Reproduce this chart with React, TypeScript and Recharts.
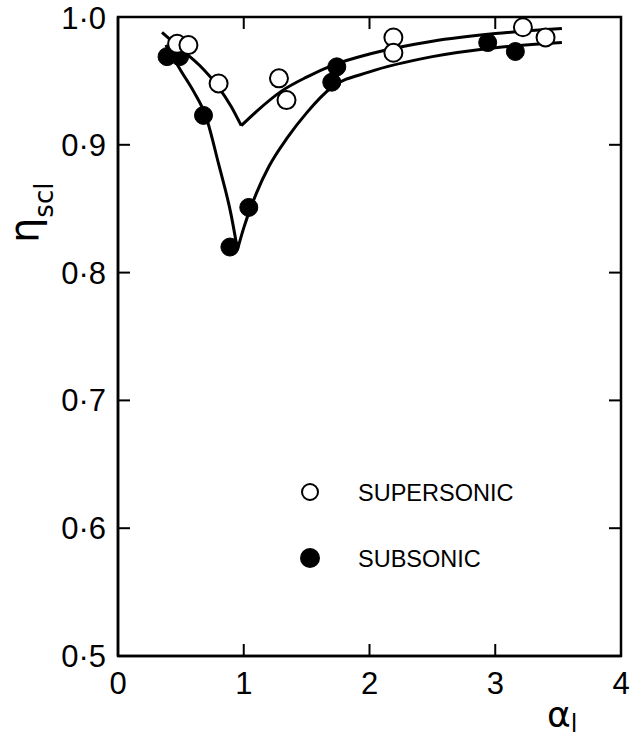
import React from 'react';
import { ComposedChart, Line, Scatter, XAxis, YAxis, Legend, Label, ReferenceArea, ReferenceLine } from 'recharts';

// Measured points
const supersonicAlpha = [0.47, 0.56, 0.80, 1.28, 1.34, 2.19, 2.19, 3.22, 3.40];
const supersonicEta = [0.979, 0.978, 0.948, 0.952, 0.935, 0.984, 0.972, 0.992, 0.984];
const subsonicAlpha = [0.39, 0.49, 0.68, 0.89, 1.04, 1.70, 1.74, 2.94, 3.16];
const subsonicEta = [0.969, 0.969, 0.923, 0.820, 0.851, 0.949, 0.961, 0.980, 0.973];

// Fitted curves (two branches each, meeting at a cusp)
const superLeftAlpha = [0.35, 0.5, 0.65, 0.8, 0.9, 0.98];
const superLeftEta = [0.988, 0.975, 0.962, 0.945, 0.930, 0.915];
const superRightAlpha = [0.98, 1.1, 1.3, 1.5, 1.7, 2.0, 2.5, 3.0, 3.53];
const superRightEta = [0.915, 0.926, 0.942, 0.953, 0.962, 0.971, 0.981, 0.987, 0.991];
const subLeftAlpha = [0.38, 0.5, 0.6, 0.7, 0.8, 0.9, 0.95];
const subLeftEta = [0.978, 0.958, 0.942, 0.922, 0.885, 0.845, 0.818];
const subRightAlpha = [0.95, 1.0, 1.1, 1.2, 1.35, 1.5, 1.7, 2.0, 2.5, 3.0, 3.53];
const subRightEta = [0.818, 0.835, 0.862, 0.883, 0.906, 0.925, 0.945, 0.957, 0.969, 0.976, 0.980];

const xTicks = [0, 1, 2, 3, 4];
const xInnerTicks = [1, 2, 3];
const yTicks = [0.5, 0.6, 0.7, 0.8, 0.9, 1.0];
const yInnerTicks = [0.6, 0.7, 0.8, 0.9];
const xDomain = [0, 4];
const yDomain = [0.5, 1.0];
const seriesNames = ['SUPERSONIC', 'SUBSONIC'];

const zip = (xs: number[], ys: number[]) => xs.map((x, i) => ({ x, y: ys[i] }));

const supersonicData = zip(supersonicAlpha, supersonicEta);
const subsonicData = zip(subsonicAlpha, subsonicEta);
const superLeft = zip(superLeftAlpha, superLeftEta);
const superRight = zip(superRightAlpha, superRightEta);
const subLeft = zip(subLeftAlpha, subLeftEta);
const subRight = zip(subRightAlpha, subRightEta);

const FONT = '"Liberation Sans", Arial, sans-serif';
const TICK_LEN = 12;

const OpenDot = (p: any) => (
  <circle cx={p.cx} cy={p.cy} r={9} fill="#fff" stroke="#000" strokeWidth={2} />
);
const FilledDot = (p: any) => <circle cx={p.cx} cy={p.cy} r={9} fill="#000" stroke="#000" strokeWidth={1} />;

// inner tick at the top end of a vertical reference line
const TopTick = (p: any) => {
  const top = Math.min(p.y1, p.y2);
  return <line x1={p.x1} x2={p.x1} y1={top} y2={top + TICK_LEN} stroke="#000" strokeWidth={2} />;
};
// inner tick at the right end of a horizontal reference line
const RightTick = (p: any) => {
  const right = Math.max(p.x1, p.x2);
  return <line x1={right} x2={right - TICK_LEN} y1={p.y1} y2={p.y1} stroke="#000" strokeWidth={2} />;
};

const renderLegend = () => (
  <svg width={260} height={100} style={{ display: 'block' }}>
    {seriesNames.map((name, i) => {
      const cy = 22 + i * 66;
      const open = i === 0;
      return (
        <g key={name}>
          <circle cx={20} cy={cy} r={open ? 8 : 9} fill={open ? '#fff' : '#000'} stroke="#000" strokeWidth={2} />
          <text x={68} y={cy + 8.5} fontFamily={FONT} fontSize={23.5} fill="#000">
            {name}
          </text>
        </g>
      );
    })}
  </svg>
);

const fmt = (v: number) => v.toFixed(1).replace('.', '\u00b7');

export default function App() {
  return (
    <div style={{ position: 'absolute', left: 0, top: 0, background: '#fff' }}>
      <ComposedChart width={637} height={737} margin={{ top: 17, right: 16, left: 0, bottom: 0 }}>
        <XAxis
          type="number"
          dataKey="x"
          domain={xDomain}
          ticks={xTicks}
          height={81}
          axisLine={{ stroke: '#000', strokeWidth: 2.5 }}
          tickLine={{ stroke: '#000', strokeWidth: 2 }}
          tickSize={-TICK_LEN}
          tickMargin={28}
          tick={{ fontFamily: FONT, fontSize: 31, fill: '#000' }}
          allowDataOverflow
        >
          <Label
            content={() => (
              <text x={547} y={727} fontFamily={'"DejaVu Sans", sans-serif'} fill="#000">
                <tspan fontSize={36}>α</tspan>
                <tspan fontSize={24} dy={5}>l</tspan>
              </text>
            )}
          />
        </XAxis>
        <YAxis
          type="number"
          domain={yDomain}
          ticks={yTicks}
          width={118}
          axisLine={{ stroke: '#000', strokeWidth: 2.5 }}
          tickLine={{ stroke: '#000', strokeWidth: 2 }}
          tickSize={-TICK_LEN}
          tickMargin={24}
          tickFormatter={fmt}
          tick={{ fontFamily: FONT, fontSize: 31, fill: '#000' }}
          allowDataOverflow
        >
          <Label
            content={() => (
              <text transform="translate(38,243) rotate(-90)" fontFamily={'"DejaVu Sans", sans-serif'} fill="#000">
                <tspan fontSize={40}>η</tspan>
                <tspan fontSize={26} dy={15}>scl</tspan>
              </text>
            )}
          />
        </YAxis>
        <ReferenceArea
          x1={xDomain[0]}
          x2={xDomain[1]}
          y1={yDomain[0]}
          y2={yDomain[1]}
          fill="none"
          fillOpacity={0}
          stroke="#000"
          strokeWidth={2.5}
          ifOverflow="visible"
        />
        {xInnerTicks.map((v) => (
          <ReferenceLine key={'tx' + v} x={v} stroke="none" shape={TopTick} ifOverflow="visible" />
        ))}
        {yInnerTicks.map((v) => (
          <ReferenceLine key={'ry' + v} y={v} stroke="none" shape={RightTick} ifOverflow="visible" />
        ))}
        <Line data={superLeft} dataKey="y" type="monotone" stroke="#000" strokeWidth={3} dot={false} isAnimationActive={false} legendType="none" />
        <Line data={superRight} dataKey="y" type="monotone" stroke="#000" strokeWidth={3} dot={false} isAnimationActive={false} legendType="none" />
        <Line data={subLeft} dataKey="y" type="monotone" stroke="#000" strokeWidth={3} dot={false} isAnimationActive={false} legendType="none" />
        <Line data={subRight} dataKey="y" type="monotone" stroke="#000" strokeWidth={3} dot={false} isAnimationActive={false} legendType="none" />
        <Scatter name={seriesNames[1]} data={subsonicData} dataKey="y" shape={FilledDot} isAnimationActive={false} />
        <Scatter name={seriesNames[0]} data={supersonicData} dataKey="y" shape={OpenDot} isAnimationActive={false} />
        <Legend
          layout="vertical"
          align="center"
          verticalAlign="middle"
          content={renderLegend}
          wrapperStyle={{ position: 'absolute', left: 290, top: 470, width: 260, height: 100 }}
        />
      </ComposedChart>
    </div>
  );
}
